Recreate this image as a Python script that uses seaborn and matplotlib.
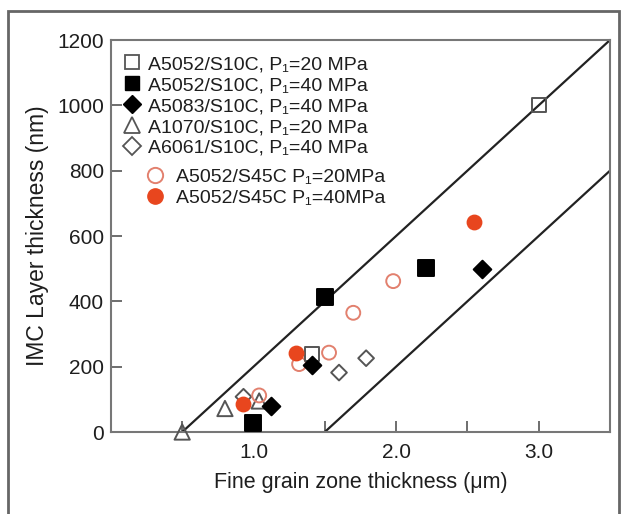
import numpy as np
import pandas as pd
import matplotlib.pyplot as plt
import seaborn as sns
from matplotlib.lines import Line2D
from matplotlib.patches import Rectangle

sns.set_style("ticks")
plt.rcParams['font.family'] = ['Liberation Sans', 'DejaVu Sans']

# series: fine grain zone thickness (um) vs IMC layer thickness (nm)
sq_open_x = [3.0, 1.41]
sq_open_y = [1000, 240]
sq_fill_x = [1.0, 1.5, 2.21]
sq_fill_y = [28, 412, 502]
dia_fill_x = [1.12, 1.41, 2.6]
dia_fill_y = [80, 205, 500]
tri_open_x = [0.5, 0.8, 1.04]
tri_open_y = [0, 72, 95]
dia_open_x = [0.93, 1.6, 1.79]
dia_open_y = [108, 182, 226]
circ_open_x = [1.04, 1.32, 1.53, 1.7, 1.98]
circ_open_y = [112, 208, 243, 365, 462]
circ_fill_x = [0.93, 1.3, 2.55]
circ_fill_y = [85, 243, 642]

labels_top = ["A5052/S10C, P\u2081=20 MPa", "A5052/S10C, P\u2081=40 MPa",
              "A5083/S10C, P\u2081=40 MPa", "A1070/S10C, P\u2081=20 MPa",
              "A6061/S10C, P\u2081=40 MPa"]
labels_bottom = ["A5052/S45C P\u2081=20MPa", "A5052/S45C P\u2081=40MPa"]

# guide lines: slope 400 nm per um
slope = 400
upper_x = np.array([0.5, 3.5])
lower_x = np.array([1.5, 3.5])

fig = plt.figure(figsize=(6.23, 5.14), dpi=100)
ax = fig.add_axes([0.178, 0.1595, 0.801, 0.7625])

grey = "#555555"
red = "#e8461e"
pink = "#e2806e"
txt = "#1e1e1e"

sns.lineplot(x=upper_x, y=slope * (upper_x - 0.5), color="#222222", lw=1.6, ax=ax)
sns.lineplot(x=lower_x, y=slope * (lower_x - 1.5), color="#222222", lw=1.6, ax=ax)

series = [
    (dia_open_x, dia_open_y, "D", "none", grey, 8),
    (tri_open_x, tri_open_y, "^", "none", grey, 11),
    (circ_open_x, circ_open_y, "o", "none", pink, 10),
    (sq_open_x, sq_open_y, "s", "none", grey, 10),
    (circ_fill_x, circ_fill_y, "o", red, red, 10),
    (sq_fill_x, sq_fill_y, "s", "black", "black", 11),
    (dia_fill_x, dia_fill_y, "D", "black", "black", 9),
]
for xs, ys, m, fc, ec, ms in series:
    sns.scatterplot(x=xs, y=ys, marker=m, s=ms ** 2, facecolor=fc, edgecolor=ec,
                    linewidth=1.4, ax=ax, zorder=3, clip_on=False)

ax.set_xlim(0, 3.5)
ax.set_ylim(0, 1200)
ax.set_xticks([0.5, 1.0, 1.5, 2.0, 2.5, 3.0])
ax.set_xticklabels(["", "1.0", "", "2.0", "", "3.0"])
ax.set_yticks([0, 200, 400, 600, 800, 1000, 1200])
ax.tick_params(direction="in", length=8, width=1.2, color=grey, labelsize=15,
               labelcolor=txt)
ax.tick_params(axis="y", pad=5)
ax.tick_params(axis="x", pad=8)
for sp in ax.spines.values():
    sp.set_color("#777777")
    sp.set_linewidth(1.5)

ax.set_xlabel("Fine grain zone thickness (\u03bcm)", fontsize=15.5, color=txt, labelpad=7)
ax.set_ylabel("IMC Layer thickness (nm)", fontsize=16.5, color=txt, labelpad=6)

h_top = [
    Line2D([], [], ls="none", marker="s", ms=10, mfc="none", mec=grey, mew=1.3),
    Line2D([], [], ls="none", marker="s", ms=10, mfc="black", mec="black"),
    Line2D([], [], ls="none", marker="D", ms=9, mfc="black", mec="black"),
    Line2D([], [], ls="none", marker="^", ms=11, mfc="none", mec=grey, mew=1.3),
    Line2D([], [], ls="none", marker="D", ms=9, mfc="none", mec=grey, mew=1.3),
]
leg1 = ax.legend(h_top, labels_top, loc="upper left", bbox_to_anchor=(0.0, 0.995),
                 frameon=False, fontsize=14, handlelength=0.8, handletextpad=0.4,
                 labelspacing=0.17, borderaxespad=0.3, labelcolor=txt)
ax.add_artist(leg1)
h_bot = [
    Line2D([], [], ls="none", marker="o", ms=11, mfc="none", mec=pink, mew=1.4),
    Line2D([], [], ls="none", marker="o", ms=11, mfc=red, mec=red),
]
ax.legend(h_bot, labels_bottom, loc="upper left", bbox_to_anchor=(0.045, 0.708),
          frameon=False, fontsize=14, handlelength=0.8, handletextpad=0.7,
          labelspacing=0.17, borderaxespad=0.3, labelcolor=txt)

fig.patches.append(Rectangle((8 / 623, -0.01), 611 / 623, 1 - 11 / 514 + 0.01,
                             transform=fig.transFigure, fill=False,
                             edgecolor="#666666", lw=2))

fig.savefig("out.png", dpi=100)
